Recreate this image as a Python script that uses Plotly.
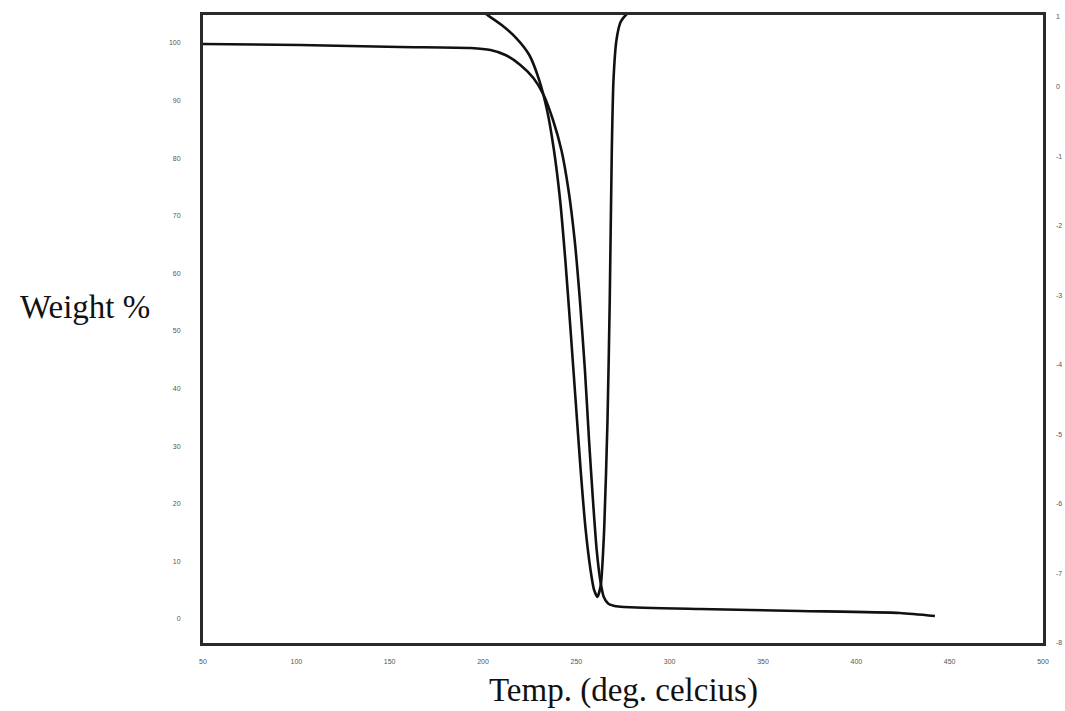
import plotly.graph_objects as go

# Temperature axis ticks
x_ticks = [50, 100, 150, 200, 250, 300, 350, 400, 450, 500]
# Left axis (Weight %)
y_ticks = [0, 10, 20, 30, 40, 50, 60, 70, 80, 90, 100]
# Right axis (derivative weight)
y2_ticks = [1, 0, -1, -2, -3, -4, -5, -6, -7, -8]

# TGA curve: weight % vs temperature
tga_temp = [50.0, 102.0, 155.5, 193.5, 204.0, 212.0, 220.0, 227.0, 232.5, 237.5,
            242.0, 245.8, 249.1, 251.9, 254.6, 256.8, 258.9, 260.9, 262.8, 264.7,
            267.3, 270.5, 275.5, 316.3, 369.8, 423.4, 442.1]
tga_weight = [99.83, 99.65, 99.31, 99.13, 98.78, 97.92, 96.18, 93.92, 90.97, 86.63,
              81.42, 74.48, 65.80, 55.38, 43.23, 31.08, 20.66, 11.98, 6.77, 3.82,
              2.60, 2.26, 2.08, 1.74, 1.39, 1.04, 0.52]

# DTG curve: derivative weight vs temperature
dtg_temp = [50.0, 194.5, 202.3, 210.0, 217.8, 224.8, 230.1, 234.3, 238.0, 241.3,
            244.1, 246.9, 249.6, 252.3, 255.0, 257.6, 259.5, 261.3, 263.1, 264.9,
            266.7, 267.9, 269.0, 269.9, 271.5, 273.7, 276.5, 281.5, 369.8, 442.1]
dtg_deriv = [1.25, 1.17, 1.03, 0.885, 0.698, 0.454, 0.094, -0.337, -0.912, -1.631,
             -2.493, -3.500, -4.506, -5.512, -6.375, -6.950, -7.237, -7.338, -7.166, -6.375,
             -4.794, -3.068, -0.912, 0.094, 0.669, 0.928, 1.029, 1.13, 1.2, 1.2]

fig = go.Figure()
fig.add_trace(go.Scatter(x=tga_temp, y=tga_weight, mode="lines",
                         line=dict(color="#111111", width=2.6, shape="spline", smoothing=0.6),
                         showlegend=False))
fig.add_trace(go.Scatter(x=dtg_temp, y=dtg_deriv, mode="lines", yaxis="y2",
                         line=dict(color="#111111", width=2.6, shape="spline", smoothing=0.6),
                         showlegend=False))

tickfont = dict(family="Liberation Sans", size=7, color="#555555")
fig.update_layout(
    width=1065, height=711,
    margin=dict(l=203, r=22, t=15, b=68, autoexpand=False),
    paper_bgcolor="white", plot_bgcolor="white",
    xaxis=dict(range=[50, 500], tickvals=x_ticks, ticktext=[str(v) for v in x_ticks],
               showgrid=False, zeroline=False, showline=True, linecolor="#2a2a2a",
               linewidth=3, mirror=True, ticks="", tickfont=tickfont, ticklabelstandoff=10,
               automargin=False),
    yaxis=dict(range=[-4.17, 104.86], tickvals=y_ticks, ticktext=[str(v) for v in y_ticks],
               showgrid=False, zeroline=False, showline=True, linecolor="#2a2a2a",
               linewidth=3, mirror=True, ticks="", tickfont=tickfont, ticklabelstandoff=18,
               automargin=False),
    yaxis2=dict(range=[-8, 1.029], tickvals=y2_ticks, ticktext=[str(v) for v in y2_ticks],
                overlaying="y", side="right", showgrid=False, zeroline=False,
                showline=False, ticks="", tickfont=tickfont, ticklabelstandoff=12,
                automargin=False),
)
fig.add_annotation(text="Weight %", xref="paper", yref="paper", x=-0.14, y=0.535,
                   xanchor="center", yanchor="middle", showarrow=False,
                   font=dict(family="Liberation Serif", size=33, color="#111111"))
fig.add_annotation(text="Temp. (deg. celcius)", xref="paper", yref="paper", x=0.5, y=-0.075,
                   xanchor="center", yanchor="middle", showarrow=False,
                   font=dict(family="Liberation Serif", size=33, color="#111111"))
fig.write_html("out.html")
